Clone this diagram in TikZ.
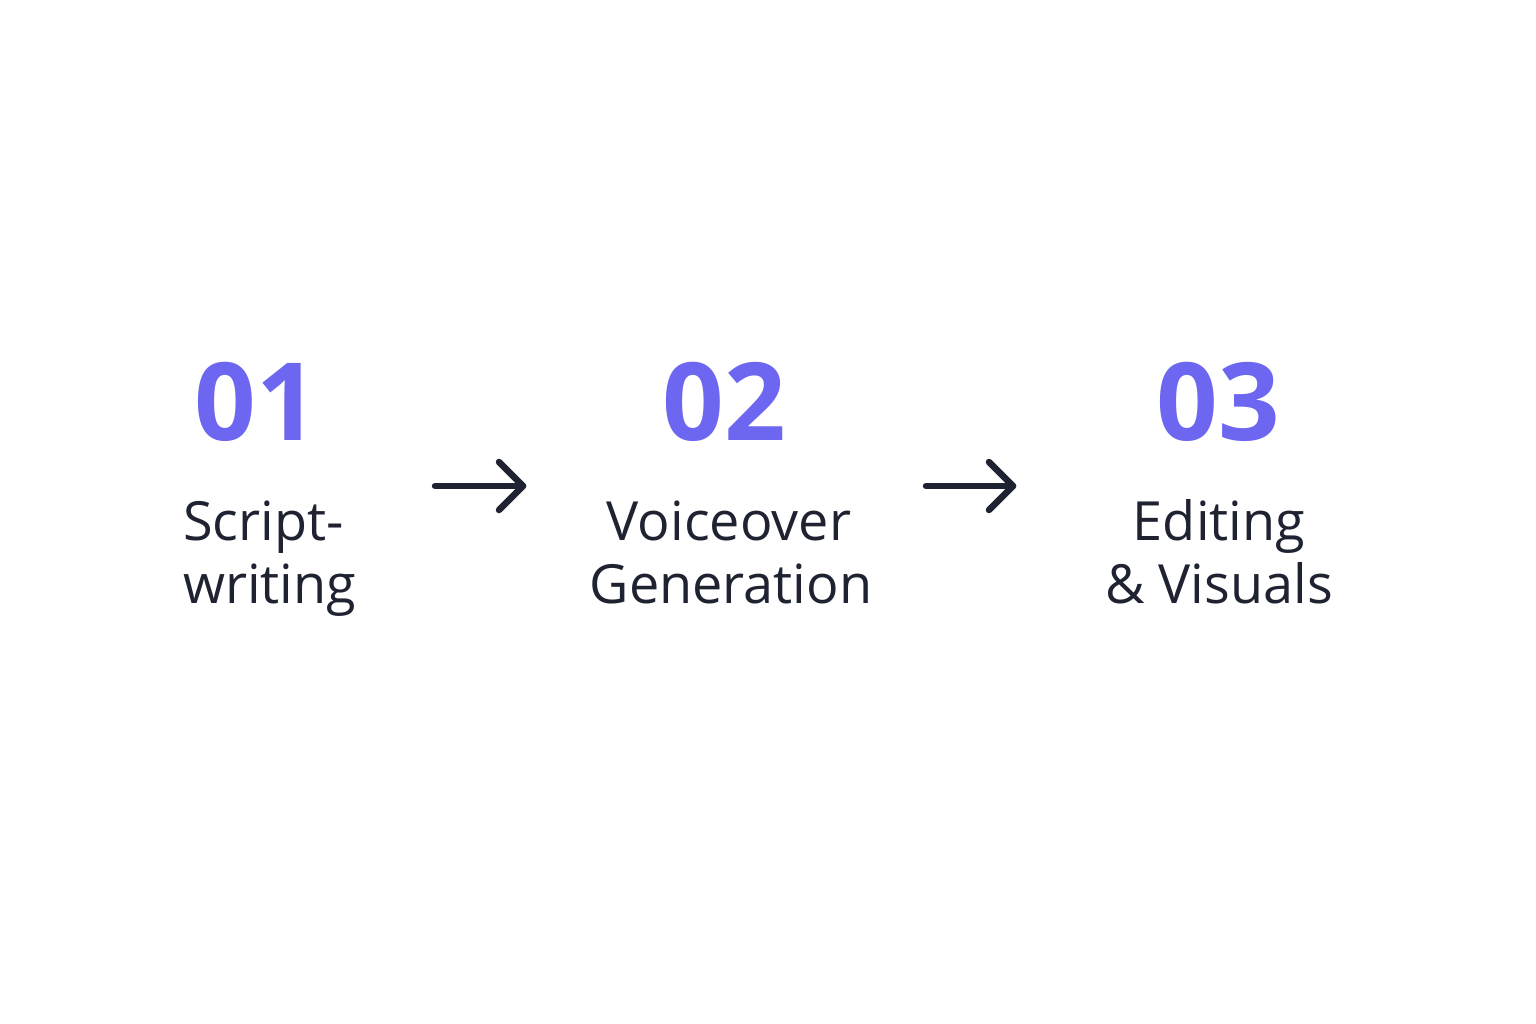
\documentclass[tikz,border=0pt]{standalone}
\usepackage{fontspec}
\setmainfont{Open Sans}
\definecolor{num}{HTML}{6C66F0}
\definecolor{ink}{HTML}{1F2230}
\begin{document}
\begin{tikzpicture}[x=1pt,y=-1pt,
  numtxt/.style={font=\fontsize{108}{108}\selectfont\bfseries,text=num,anchor=base,inner sep=0},
  labtxt/.style={font=\fontsize{54}{63}\selectfont,text=ink,anchor=base,inner sep=0},
  flow/.style={draw=ink,line width=6.5pt,line cap=round,line join=round}]
\useasboundingbox (0,0) rectangle (1536,1024);
\node[numtxt] (n1) at (256,440) {01};
\node[numtxt] (n2) at (724,440) {02};
\node[numtxt] (n3) at (1218,440) {03};
\node[labtxt,anchor=base west] (l1a) at (183,540) {Script-};
\node[labtxt,anchor=base west] (l1b) at (183,603) {writing};
\node[labtxt] (l2a) at (729,540) {Voiceover};
\node[labtxt] (l2b) at (731,603) {Generation};
\node[labtxt] (l3a) at (1219,540) {Editing};
\node[labtxt] (l3b) at (1219,603) {\&~Visuals};
\coordinate (a1s) at (435,486); \coordinate (a1e) at (523,486);
\coordinate (a2s) at (926,486); \coordinate (a2e) at (1013,486);
\draw[flow] (a1s) -- (a1e);
\draw[flow] ([shift={(-24,-24)}]a1e) -- (a1e) -- ([shift={(-24,24)}]a1e);
\draw[flow] (a2s) -- (a2e);
\draw[flow] ([shift={(-24,-24)}]a2e) -- (a2e) -- ([shift={(-24,24)}]a2e);
\end{tikzpicture}
\end{document}
